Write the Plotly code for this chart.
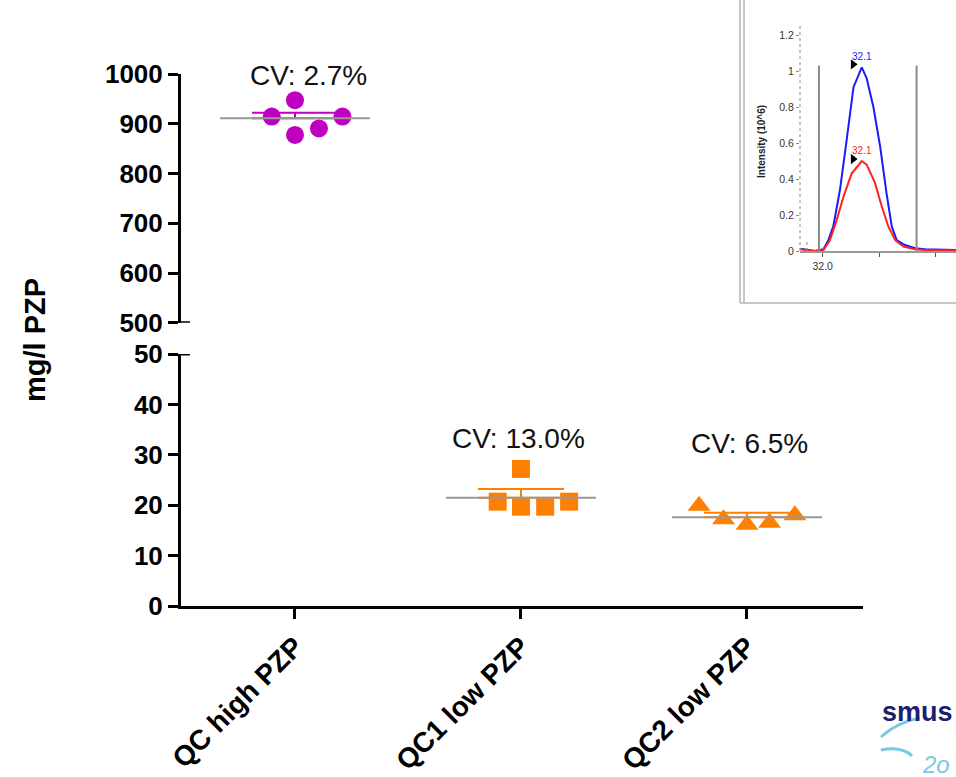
import plotly.graph_objects as go

# ---------------- data ----------------
categories = ["QC high PZP", "QC1 low PZP", "QC2 low PZP"]
qc_high = [915, 948, 878, 891, 915]
qc1_low = [27.2, 20.7, 19.7, 19.7, 20.7]
qc2_low = [19.9, 17.2, 16.1, 16.5, 18.0]
jitter_high = [-0.103, 0.0, 0.0, 0.106, 0.21]
jitter_qc1 = [0.0, -0.103, 0.0, 0.107, 0.213]
jitter_qc2 = [-0.212, -0.104, 0.0, 0.1, 0.212]
means = [911.4, 21.5, 17.6]
errors = [11.3, 1.7, 0.9]
cv_labels = ["CV: 2.7%", "CV: 13.0%", "CV: 6.5%"]
upper_ticks = [500, 600, 700, 800, 900, 1000]
lower_ticks = [0, 10, 20, 30, 40, 50]

# inset chromatogram (time in min, intensity 10^6)
inset_time_blue = [31.941, 31.979, 32.002, 32.015, 32.028, 32.046, 32.064, 32.082, 32.104,
                   32.117, 32.135, 32.153, 32.170, 32.184, 32.197, 32.219, 32.246, 32.273, 32.355]
inset_blue = [0.012, 0.0, 0.01, 0.06, 0.135, 0.34, 0.62, 0.91, 1.02,
              0.96, 0.80, 0.58, 0.32, 0.135, 0.06, 0.033, 0.015, 0.01, 0.005]
inset_time_red = [31.941, 31.979, 32.002, 32.019, 32.037, 32.055, 32.077, 32.104, 32.117,
                  32.139, 32.157, 32.175, 32.193, 32.215, 32.246, 32.273, 32.355]
inset_red = [0.01, 0.0, 0.005, 0.06, 0.17, 0.30, 0.43, 0.50, 0.48,
             0.38, 0.25, 0.135, 0.06, 0.024, 0.01, 0.005, 0.003]
peak_time = 32.104
peak_label = "32.1"
inset_x_ticks = [32.0, 32.15, 32.3]
inset_x_ticktext = ["32.0", "", ""]
inset_y_ticks = [0, 0.2, 0.4, 0.6, 0.8, 1.0, 1.2]

# ---------------- layout helpers ----------------
W, H = 956, 777
ML, MB = 181, 171
PW, PH = W - ML, H - MB


def px(x):
    return (x - ML) / PW


def py(y):
    return (PH - y) / PH


FONT = "Liberation Sans, Arial, sans-serif"
MAGENTA = "#C000C0"
ORANGE = "#FF8000"
GRAY = "#999999"

fig = go.Figure()

series = [
    (qc_high, jitter_high, "y2", "circle", MAGENTA, 0),
    (qc1_low, jitter_qc1, "y", "square", ORANGE, 1),
    (qc2_low, jitter_qc2, "y", "triangle-up", ORANGE, 2),
]

for vals, jit, yax, sym, col, ci in series:
    fig.add_trace(go.Scatter(
        x=[ci + j for j in jit], y=vals, yaxis=yax, xaxis="x", mode="markers",
        marker=dict(symbol=sym, size=18 if sym != "triangle-up" else 20, color=col, line=dict(width=0)),
        showlegend=False, cliponaxis=False, hoverinfo="skip"))
    # error bar (mean + error)
    fig.add_trace(go.Scatter(
        x=[ci], y=[means[ci]], yaxis=yax, xaxis="x", mode="markers",
        marker=dict(size=1, opacity=0),
        error_y=dict(type="data", symmetric=False, array=[errors[ci]], arrayminus=[0],
                     width=43, thickness=2, color=col),
        showlegend=False, hoverinfo="skip"))
    # mean line
    fig.add_trace(go.Scatter(
        x=[ci - 0.332, ci + 0.332], y=[means[ci], means[ci]], yaxis=yax, xaxis="x",
        mode="lines", line=dict(color=GRAY, width=2),
        showlegend=False, hoverinfo="skip"))

# inset traces
fig.add_trace(go.Scatter(x=inset_time_blue, y=inset_blue, xaxis="x3", yaxis="y3", mode="lines",
                         line=dict(color="#1a1aff", width=2), showlegend=False, hoverinfo="skip"))
fig.add_trace(go.Scatter(x=inset_time_red, y=inset_red, xaxis="x3", yaxis="y3", mode="lines",
                         line=dict(color="#ff2020", width=2), showlegend=False, hoverinfo="skip"))
fig.add_trace(go.Scatter(x=[peak_time - 0.023, peak_time - 0.023],
                         y=[max(inset_blue) + 0.017, max(inset_red) + 0.011],
                         xaxis="x3", yaxis="y3", mode="markers",
                         marker=dict(symbol="triangle-right", size=9, color="black"),
                         showlegend=False, hoverinfo="skip"))

axis_common = dict(showline=True, linecolor="black", linewidth=3, ticks="outside",
                   ticklen=10, tickwidth=3, tickcolor="black", showgrid=False, zeroline=False,
                   automargin=False,
                   tickfont=dict(family=FONT, size=26, color="black", weight="bold"))

fig.update_layout(
    width=W, height=H,
    margin=dict(l=ML, r=0, t=0, b=MB, autoexpand=False),
    paper_bgcolor="white", plot_bgcolor="white",
    xaxis=dict(domain=[0, px(862.7)], range=[-0.5044, 2.512], anchor="y",
               tickvals=[0, 1, 2], ticktext=categories, tickangle=-45,
               **{k: v for k, v in axis_common.items() if k != "tickfont"},
               tickfont=dict(family=FONT, size=28, color="black", weight="bold")),
    yaxis=dict(domain=[0, py(354)], range=[0, 50], anchor="x", tickvals=lower_ticks, **axis_common),
    yaxis2=dict(domain=[py(322.7), py(74.3)], range=[500, 1000], anchor="x",
                tickvals=upper_ticks, **axis_common),
    xaxis3=dict(domain=[px(800), 1.0], range=[31.9395, 32.355], anchor="y3",
                showline=True, linecolor="#999999", linewidth=2, ticks="outside", ticklen=4,
                tickwidth=1, tickcolor="#555", tickvals=inset_x_ticks, ticktext=inset_x_ticktext,
                showgrid=False, zeroline=False, automargin=False,
                tickfont=dict(family=FONT, size=10.5, color="#333")),
    yaxis3=dict(domain=[py(251), 1.0], range=[0, 251 / 180], anchor="x3",
                showline=False, ticks="outside", ticklen=3, tickwidth=1, tickcolor="#888",
                tickvals=inset_y_ticks, showgrid=False, zeroline=False, automargin=False,
                tickfont=dict(family=FONT, size=10.5, color="#333")),
)

annotations = []
cv_pos = [(0.058, 997, "y2"), (0.991, 33.3, "y"), (2.009, 32.3, "y")]
for (ax_, ay_, yr), t in zip(cv_pos, cv_labels):
    annotations.append(dict(x=ax_, y=ay_, xref="x", yref=yr, text=t, showarrow=False,
                            xanchor="center", yanchor="middle",
                            font=dict(family=FONT, size=28, color="#111")))
annotations.append(dict(x=px(35), y=py(340), xref="paper", yref="paper", text="mg/l PZP",
                        textangle=-90, showarrow=False, xanchor="center", yanchor="middle",
                        font=dict(family=FONT, size=29, color="black", weight="bold")))
# inset labels
annotations.append(dict(x=peak_time, y=max(inset_blue) + 0.06, xref="x3", yref="y3", text=peak_label,
                        showarrow=False, font=dict(family=FONT, size=10, color="#1a1aff")))
annotations.append(dict(x=peak_time, y=max(inset_red) + 0.06, xref="x3", yref="y3", text=peak_label,
                        showarrow=False, font=dict(family=FONT, size=10, color="#ff2020")))
annotations.append(dict(x=px(762), y=py(142), xref="paper", yref="paper", text="Intensity (10^6)",
                        textangle=-90, showarrow=False, xanchor="center", yanchor="middle",
                        font=dict(family=FONT, size=10, color="#222", weight="bold")))
# logo fragment
annotations.append(dict(x=px(955), y=py(712), xref="paper", yref="paper", text="smus",
                        showarrow=False, xanchor="right", yanchor="middle",
                        font=dict(family=FONT, size=27, color="#1b1f6e", weight="bold")))
annotations.append(dict(x=px(920), y=py(764), xref="paper", yref="paper", text="<i>2o</i>",
                        showarrow=False, xanchor="left", yanchor="middle",
                        font=dict(family=FONT, size=24, color="#7cc8e0")))
fig.update_layout(annotations=annotations)

shapes = []
# broken axis caps
shapes.append(dict(type="line", xref="paper", yref="y2", x0=px(179.5), x1=px(190), y0=500, y1=500,
                   line=dict(color="black", width=3)))
shapes.append(dict(type="line", xref="paper", yref="y", x0=px(179.5), x1=px(190), y0=50, y1=50,
                   line=dict(color="black", width=3)))
# inset frame
for xx in (740, 744):
    shapes.append(dict(type="line", xref="paper", yref="paper", x0=px(xx), x1=px(xx),
                       y0=py(0), y1=py(303), line=dict(color="#b5b5b5", width=1.5)))
shapes.append(dict(type="line", xref="paper", yref="paper", x0=px(740), x1=px(956),
                   y0=py(303), y1=py(303), line=dict(color="#b5b5b5", width=1.5)))
# inset dotted y axis
shapes.append(dict(type="line", xref="paper", yref="y3", x0=px(800), x1=px(800), y0=0, y1=1.25,
                   line=dict(color="#888", width=1, dash="dot")))
# integration boundaries
for xx in (31.99, 32.25):
    shapes.append(dict(type="line", xref="x3", yref="y3", x0=xx, x1=xx, y0=0, y1=1.03,
                       line=dict(color="#8a8a8a", width=2)))
shapes.append(dict(type="line", xref="x3", yref="y3", x0=31.958, x1=31.958, y0=0, y1=0.06,
                   line=dict(color="#8a8a8a", width=1, dash="dot")))
# logo swooshes


def path_q(p0, c, p1):
    return "M {},{} Q {},{} {},{}".format(px(p0[0]), py(p0[1]), px(c[0]), py(c[1]), px(p1[0]), py(p1[1]))


shapes.append(dict(type="path", xref="paper", yref="paper",
                   path=path_q((881, 737), (897, 722), (920, 718)),
                   line=dict(color="#7cc8e0", width=3)))
shapes.append(dict(type="path", xref="paper", yref="paper",
                   path=path_q((881, 750), (902, 746), (912, 756)),
                   line=dict(color="#7cc8e0", width=3)))
fig.update_layout(shapes=shapes)

fig.write_html("out.html", config={"displayModeBar": False},
               post_script="document.body.style.margin='0';document.body.style.overflow='hidden';")
